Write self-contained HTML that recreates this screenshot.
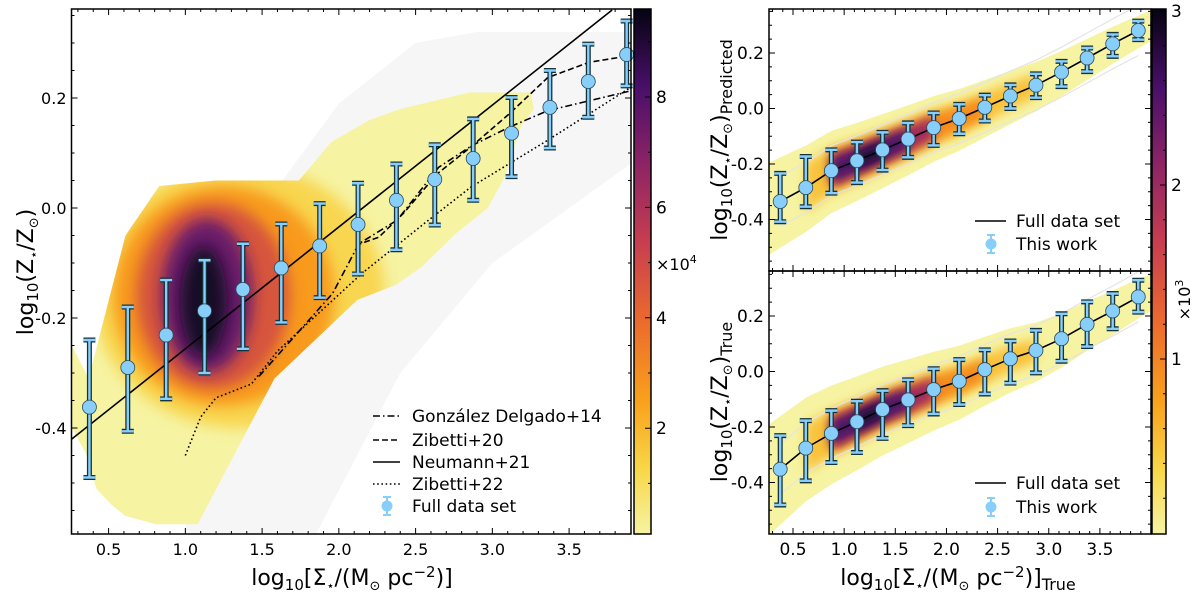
<!DOCTYPE html>
<html><head><meta charset="utf-8">
<style>
html,body{margin:0;padding:0;background:#fff;}
svg{display:block;font-family:"DejaVu Sans","Liberation Sans",sans-serif;}
</style></head>
<body>
<svg id="fig" width="1200" height="603" viewBox="0 0 1200 603" xmlns="http://www.w3.org/2000/svg">
<defs>
<linearGradient id="cmap" x1="0" y1="1" x2="0" y2="0">
<stop offset="0" stop-color="#f6f3a2"/>
<stop offset="0.12" stop-color="#f8d84a"/>
<stop offset="0.25" stop-color="#f9a21c"/>
<stop offset="0.4" stop-color="#ec6c2c"/>
<stop offset="0.55" stop-color="#c93f4f"/>
<stop offset="0.7" stop-color="#8f2465"/>
<stop offset="0.85" stop-color="#4a0f6a"/>
<stop offset="1" stop-color="#050312"/>
</linearGradient>
<filter id="blurL" x="-50%" y="-50%" width="200%" height="200%"><feGaussianBlur stdDeviation="7"/></filter>
<filter id="blurR" x="-50%" y="-50%" width="200%" height="200%"><feGaussianBlur stdDeviation="5"/></filter>
</defs>
<g id="layer"></g>
</svg>
<script>
// ---------- data ----------
const binX = [0.375,0.625,0.875,1.125,1.375,1.625,1.875,2.125,2.375,2.625,2.875,3.125,3.375,3.625,3.875];
const leftY  = [-0.362,-0.29,-0.231,-0.187,-0.148,-0.109,-0.069,-0.030,0.014,0.052,0.090,0.136,0.183,0.230,0.279];
const leftHi = [-0.24,-0.18,-0.131,-0.095,-0.065,-0.029,0.008,0.045,0.080,0.115,0.162,0.201,0.250,0.298,0.340];
const leftLo = [-0.49,-0.406,-0.347,-0.30,-0.256,-0.208,-0.163,-0.120,-0.076,-0.031,0.014,0.057,0.109,0.165,0.222];
const topY  = [-0.335,-0.285,-0.224,-0.188,-0.149,-0.110,-0.069,-0.036,0.004,0.045,0.084,0.131,0.182,0.233,0.281];
const topHi = [-0.234,-0.173,-0.149,-0.121,-0.086,-0.052,-0.016,0.015,0.048,0.085,0.125,0.170,0.218,0.267,0.315];
const topLo = [-0.408,-0.354,-0.305,-0.267,-0.222,-0.176,-0.133,-0.091,-0.045,0.0,0.039,0.079,0.133,0.188,0.248];
const botY  = [-0.352,-0.276,-0.223,-0.181,-0.137,-0.102,-0.065,-0.035,0.007,0.046,0.076,0.118,0.170,0.218,0.269];
const botHi = [-0.231,-0.177,-0.141,-0.107,-0.069,-0.030,0.010,0.043,0.078,0.110,0.148,0.208,0.251,0.281,0.329];
const botLo = [-0.481,-0.394,-0.328,-0.292,-0.241,-0.195,-0.153,-0.119,-0.081,-0.042,-0.005,0.037,0.090,0.154,0.214];
const neumannX = [0.26,3.78];
const neumannY = [-0.42,0.36];
const gd14X = [1.0,1.2,1.48,1.96,2.13,2.38,2.65,2.87,3.11,3.36,3.90];
const gd14Y = [-0.45,-0.345,-0.306,-0.155,-0.065,-0.022,0.074,0.114,0.147,0.177,0.213];
const z20X = [2.11,2.26,2.42,2.64,2.86,3.11,3.36,3.63,3.90];
const z20Y = [-0.068,-0.053,-0.010,0.062,0.111,0.171,0.237,0.265,0.277];
const z22X = [1.0,1.1,1.2,1.43,1.6,2.15,2.53,2.86,3.36,3.90];
const z22Y = [-0.45,-0.38,-0.345,-0.32,-0.26,-0.119,-0.034,0.038,0.123,0.219];
const xTicks = [0.5,1.0,1.5,2.0,2.5,3.0,3.5];
const xTickLabels = ["0.5","1.0","1.5","2.0","2.5","3.0","3.5"];
const yTicks = [-0.4,-0.2,0.0,0.2];
const yTickLabels = ["-0.4","-0.2","0.0","0.2"];
const cbLeftTicks = [2,4,6,8];
const cbLeftLabels = ["2","4","6","8"];
const cbRightTicks = [1,2,3];
const cbRightLabels = ["1","2","3"];

// ---------- helpers ----------
const NS = "http://www.w3.org/2000/svg";
const root = document.getElementById('layer');
function mk(tag, attrs, parent){
  const e = document.createElementNS(NS, tag);
  for (const k in attrs) e.setAttribute(k, attrs[k]);
  (parent||root).appendChild(e);
  return e;
}
function ptsStr(xs, ys, X, Y){ return xs.map((x,i)=>X(x).toFixed(1)+','+Y(ys[i]).toFixed(1)).join(' '); }

const L = {x0:71.5,x1:631,y0:9,y1:534, X:x=>108.6+(x-0.5)*153.5, Y:y=>208-y*550};
const RT = {x0:769,x1:1151,y0:9,y1:271, X:x=>793+(x-0.5)*102.3, Y:y=>108.5-y*277.5};
const RB = {x0:769,x1:1151,y0:271,y1:534, X:x=>793+(x-0.5)*102.3, Y:y=>371.5-y*277.5};

function clipFor(P, id){
  const cp = mk('clipPath',{id:id}, document.querySelector('defs'));
  mk('rect',{x:P.x0,y:P.y0,width:P.x1-P.x0,height:P.y1-P.y0},cp);
}
clipFor(L,'clipL'); clipFor(RT,'clipRT'); clipFor(RB,'clipRB');

// ---------- left heatmap ----------
const gL = mk('g',{'clip-path':'url(#clipL)'});


const grayX=[1.0,1.0,1.5,2.0,2.5,2.9,3.95,3.95,3.0,2.4,1.8];
const grayY=[-0.62,-0.2,0.0,0.19,0.30,0.32,0.32,0.09,-0.1,-0.3,-0.62];
const gray = mk('polygon',{points:ptsStr(grayX,grayY,L.X,L.Y),fill:'#f6f6f6'},gL);


const envX=[0.26,0.37,0.61,0.83,1.2,1.74,1.95,2.2,2.4,2.85,3.25,3.27,3.19,3.08,2.97,2.76,2.54,2.37,2.12,1.58,1.08,0.81,0.61,0.52,0.42,0.35,0.26];
const envY=[-0.25,-0.31,-0.05,0.04,0.05,0.05,0.12,0.16,0.18,0.21,0.21,0.18,0.15,0.056,0.0,-0.047,-0.107,-0.14,-0.167,-0.31,-0.575,-0.575,-0.56,-0.54,-0.51,-0.445,-0.40];
const envPts = ptsStr(envX,envY,L.X,L.Y);
const cpEnv = mk('clipPath',{id:'envL'}, document.querySelector('defs'));
mk('polygon',{points:envPts},cpEnv);
const yel = mk('polygon',{points:envPts,fill:'#f6f3a2'},gL);


const gIn = mk('g',{'clip-path':'url(#envL)'},gL);
const blobsL=[[1.35,-0.16,0.95,0.24,'#f8d650'],[1.25,-0.16,0.72,0.2,'#f89a1c'],[1.18,-0.16,0.5,0.17,'#d6553e'],[1.14,-0.16,0.3,0.14,'#6a1a6a'],[1.12,-0.17,0.15,0.1,'#120828']];
blobsL.forEach(b=>{
  const e = mk('ellipse',{cx:L.X(b[0]),cy:L.Y(b[1]),rx:b[2]*153.5,ry:b[3]*550,fill:b[4],filter:'url(#blurL)'},gIn);
  
  
});

// ---------- right heatmaps ----------
function band(P, g, xs, ys, wfn, fill, filt){
  const up = xs.map((x,i)=>P.X(x).toFixed(1)+','+P.Y(ys[i]+wfn(x,1)).toFixed(1));
  const dn = xs.map((x,i)=>P.X(x).toFixed(1)+','+P.Y(ys[i]-wfn(x,-1)).toFixed(1)).reverse();
  const a = {points:up.concat(dn).join(' '),fill:fill};
  if (filt) a.filter=filt;
  return mk('polygon',a,g);
}
function rightMap(P, clip, ys, wide){
  const g = mk('g',{'clip-path':`url(#${clip})`});
  
  
  const xs=[0.1].concat(binX).concat([4.1]);
  const yy=[ys[0]-(ys[1]-ys[0])*1.1].concat(ys).concat([ys[14]+0.04]);
  const yel = band(P,g,xs,yy,(x,s)=>(s>0?(0.17-0.03*x)*wide:(0.17-0.028*x)*wide*1.05),'#f6f3a2',null);
  
  
  const sub=(a,b)=>{const ix=[],iy=[];binX.forEach((x,i)=>{if(x>=a&&x<=b){ix.push(x);iy.push(ys[i]);}});return [ix,iy];};
  let [x1,y1]=sub(0.6,2.9);
  const o1=band(P,g,x1,y1,x=>0.10-0.02*x,'#f9c23a','url(#blurR)');
  
  
  [x1,y1]=sub(0.7,2.4);
  const o2=band(P,g,x1,y1,x=>0.085-0.02*x,'#f58a1e','url(#blurR)');
  
  
  [x1,y1]=sub(0.8,1.9);
  const o3=band(P,g,x1,y1,x=>0.07-0.015*x,'#a02a5e','url(#blurR)');
  
  
  [x1,y1]=sub(0.85,1.65);
  const o4=band(P,g,x1,y1,x=>0.05-0.01*x,'#4a1268','url(#blurR)');
  
  
  [x1,y1]=sub(1.0,1.4);
  const o5=band(P,g,x1,y1,x=>0.025,'#1a0a35','url(#blurR)');
  
  
  [0.09,-0.09].forEach(d=>{
    const q=mk('polyline',{points:ptsStr(binX,ys.map(v=>v+d),P.X,P.Y),fill:'none',stroke:'#e4e4e4','stroke-width':1.2},g);
    
    
  });
  const ln = mk('polyline',{points:ptsStr(binX,ys,P.X,P.Y),fill:'none',stroke:'#000','stroke-width':1.6},g);
  
  
  return g;
}
rightMap(RT,'clipRT',topY,1.0);
rightMap(RB,'clipRB',botY,1.2);

// ---------- left reference lines ----------
const gLines = mk('g',{'clip-path':'url(#clipL)',fill:'none',stroke:'#000','stroke-width':1.6});


const nl = mk('polyline',{points:ptsStr(neumannX,neumannY,L.X,L.Y)},gLines);


const gd = mk('polyline',{points:ptsStr(gd14X.slice(2),gd14Y.slice(2),L.X,L.Y),'stroke-dasharray':'7 3 1.5 3'},gLines);


const z20 = mk('polyline',{points:ptsStr(z20X,z20Y,L.X,L.Y),'stroke-dasharray':'6 3'},gLines);


const z22 = mk('polyline',{points:ptsStr(z22X,z22Y,L.X,L.Y),'stroke-dasharray':'1.6 2.6'},gLines);



// ---------- error bars ----------
function errbars(P, ys, lo, hi, name){
  const g = mk('g',{});
  
  
  binX.forEach((x,i)=>{
    const px=P.X(x), t=P.Y(hi[i]), b=P.Y(lo[i]);
    const d=`M${px},${t}V${b}M${px-6},${t}H${px+6}M${px-6},${b}H${px+6}`;
    mk('path',{d:d,stroke:'#16323c','stroke-width':5,fill:'none','stroke-linecap':'butt'},g);
    mk('path',{d:d,stroke:'#87cefa','stroke-width':2.4,fill:'none'},g);
    const c = mk('circle',{cx:px,cy:P.Y(ys[i]),r:7,fill:'#87cefa',stroke:'#2a4a5a','stroke-width':0.8},g);
    
    
  });
}
errbars(L,leftY,leftLo,leftHi,'full-data-set-errorbars');
errbars(RT,topY,topLo,topHi,'predicted-errorbars');
errbars(RB,botY,botLo,botHi,'true-errorbars');

// ---------- axes ----------
function axes(P, name, fs, xlab){
  const g = mk('g',{});
  
  
  const fr = mk('rect',{x:P.x0,y:P.y0,width:P.x1-P.x0,height:P.y1-P.y0,fill:'none',stroke:'#000','stroke-width':1.5},g);
  
  
  let d='';
  for(let v=0.3;v<=4.0001;v+=0.1){
    const px=P.X(v); if(px<P.x0+1||px>P.x1-1) continue;
    const major = Math.abs(v*2-Math.round(v*2))<1e-6;
    const len = major?6:3;
    d+=`M${px},${P.y1}v${-len}M${px},${P.y0}v${len}`;
  }
  for(let v=-0.6;v<=0.4001;v+=0.05){
    const py=P.Y(v); if(py<P.y0+1||py>P.y1-1) continue;
    const major = Math.abs(v*5-Math.round(v*5))<1e-6;
    const len = major?6:3;
    d+=`M${P.x0},${py}h${len}M${P.x1},${py}h${-len}`;
  }
  mk('path',{d:d,stroke:'#000','stroke-width':1,fill:'none'},g);
  if (xlab) xTicks.forEach((v,i)=>{
    const t = mk('text',{x:P.X(v),y:P.y1+21,'font-size':fs,'text-anchor':'middle'},g);
    t.textContent = xTickLabels[i];
    
    
  });
  yTicks.forEach((v,i)=>{
    const t = mk('text',{x:P.x0-5,y:P.Y(v)+fs*0.36,'font-size':fs,'text-anchor':'end'},g);
    t.textContent = yTickLabels[i];
    
    
  });
}
axes(L,'left-axes',16,true);
axes(RT,'top-right-axes',17,false);
axes(RB,'bottom-right-axes',17,true);

// ---------- colorbars ----------
function cbar(x0,x1,y0,y1,ticks,labels,Yc,name,minor){
  const g = mk('g',{});
  
  
  mk('rect',{x:x0,y:y0,width:x1-x0,height:y1-y0,fill:'url(#cmap)',stroke:'#000','stroke-width':1.5},g);
  let d='';
  minor.forEach(v=>{const y=Yc(v); if(y>y0&&y<y1) d+=`M${x1},${y}h-3`;});
  ticks.forEach((v,i)=>{
    const y=Yc(v); d+=`M${x1},${y}h-6`;
    const t = mk('text',{x:x1+5,y:y+6,'font-size':17},g);
    t.textContent = labels[i];
    
    
  });
  mk('path',{d:d,stroke:'#000','stroke-width':1},g);
}
cbar(634,651,9,534,cbLeftTicks,cbLeftLabels,v=>97+(8-v)*55.2,'left-colorbar',[1,3,5,7,9]);
cbar(1152,1166,9,534,cbRightTicks,cbRightLabels,v=>11+(3-v)*174,'right-colorbar',[0.2,0.4,0.6,0.8,1.2,1.4,1.6,1.8,2.2,2.4,2.6,2.8]);
</script>

<svg width="1200" height="603" viewBox="0 0 1200 603" style="position:absolute;left:0;top:0;font-family:'DejaVu Sans','Liberation Sans',sans-serif" xmlns="http://www.w3.org/2000/svg">
<text x="352" y="585" font-size="22" text-anchor="middle">log<tspan font-size="15" dy="5">10</tspan><tspan dy="-5">[Σ</tspan><tspan font-size="13" dy="5">⋆</tspan><tspan dy="-5">/(M</tspan><tspan font-size="13" dy="5">⊙</tspan><tspan dy="-5"> pc</tspan><tspan font-size="15" dy="-8">−2</tspan><tspan dy="8">)]</tspan></text>
<text transform="translate(33,272) rotate(-90)" font-size="22" text-anchor="middle">log<tspan font-size="15" dy="5">10</tspan><tspan dy="-5">(Z</tspan><tspan font-size="13" dy="5">⋆</tspan><tspan dy="-5">/Z</tspan><tspan font-size="13" dy="5">⊙</tspan><tspan dy="-5">)</tspan></text>
<text x="958" y="585" font-size="22" text-anchor="middle">log<tspan font-size="15" dy="5">10</tspan><tspan dy="-5">[Σ</tspan><tspan font-size="13" dy="5">⋆</tspan><tspan dy="-5">/(M</tspan><tspan font-size="13" dy="5">⊙</tspan><tspan dy="-5"> pc</tspan><tspan font-size="15" dy="-8">−2</tspan><tspan dy="8">)]</tspan><tspan font-size="16" dy="5">True</tspan></text>
<text transform="translate(727,140) rotate(-90)" font-size="22" text-anchor="middle">log<tspan font-size="15" dy="5">10</tspan><tspan dy="-5">(Z</tspan><tspan font-size="13" dy="5">⋆</tspan><tspan dy="-5">/Z</tspan><tspan font-size="13" dy="5">⊙</tspan><tspan dy="-5">)</tspan><tspan font-size="16" dy="5">Predicted</tspan></text>
<text transform="translate(727,402) rotate(-90)" font-size="22" text-anchor="middle">log<tspan font-size="15" dy="5">10</tspan><tspan dy="-5">(Z</tspan><tspan font-size="13" dy="5">⋆</tspan><tspan dy="-5">/Z</tspan><tspan font-size="13" dy="5">⊙</tspan><tspan dy="-5">)</tspan><tspan font-size="16" dy="5">True</tspan></text>
<text x="656" y="270" font-size="16">×10<tspan font-size="11" dy="-7">4</tspan></text>
<text transform="translate(1190,300) rotate(-90)" font-size="16" text-anchor="middle">×10<tspan font-size="11" dy="-7">3</tspan></text>
<g font-size="17">
 <line x1="373" y1="416" x2="400" y2="416" stroke="#000" stroke-width="1.6" stroke-dasharray="7 3 1.5 3"/>
 <text x="412" y="422">González Delgado+14</text>
 <line x1="373" y1="440" x2="400" y2="440" stroke="#000" stroke-width="1.6" stroke-dasharray="6 3"/>
 <text x="412" y="446">Zibetti+20</text>
 <line x1="373" y1="462" x2="400" y2="462" stroke="#000" stroke-width="1.6"/>
 <text x="412" y="468">Neumann+21</text>
 <line x1="373" y1="484" x2="400" y2="484" stroke="#000" stroke-width="1.6" stroke-dasharray="1.6 2.6"/>
 <text x="412" y="490">Zibetti+22</text>
 <path d="M387,497V515M383,497H391M383,515H391" stroke="#87cefa" stroke-width="2"/><circle cx="387" cy="506" r="5.5" fill="#87cefa"/>
 <text x="412" y="512">Full data set</text>
</g>
<g font-size="17">
 <line x1="975" y1="221" x2="1006" y2="221" stroke="#000" stroke-width="1.6"/>
 <text x="1016" y="227">Full data set</text>
 <path d="M991,235V253M987,235H995M987,253H995" stroke="#87cefa" stroke-width="2"/><circle cx="991" cy="244" r="5.5" fill="#87cefa"/>
 <text x="1016" y="250">This work</text>
</g>
<g font-size="17">
 <line x1="975" y1="483" x2="1006" y2="483" stroke="#000" stroke-width="1.6"/>
 <text x="1016" y="489">Full data set</text>
 <path d="M991,498V516M987,498H995M987,516H995" stroke="#87cefa" stroke-width="2"/><circle cx="991" cy="507" r="5.5" fill="#87cefa"/>
 <text x="1016" y="513">This work</text>
</g>
</svg>
</body></html>
